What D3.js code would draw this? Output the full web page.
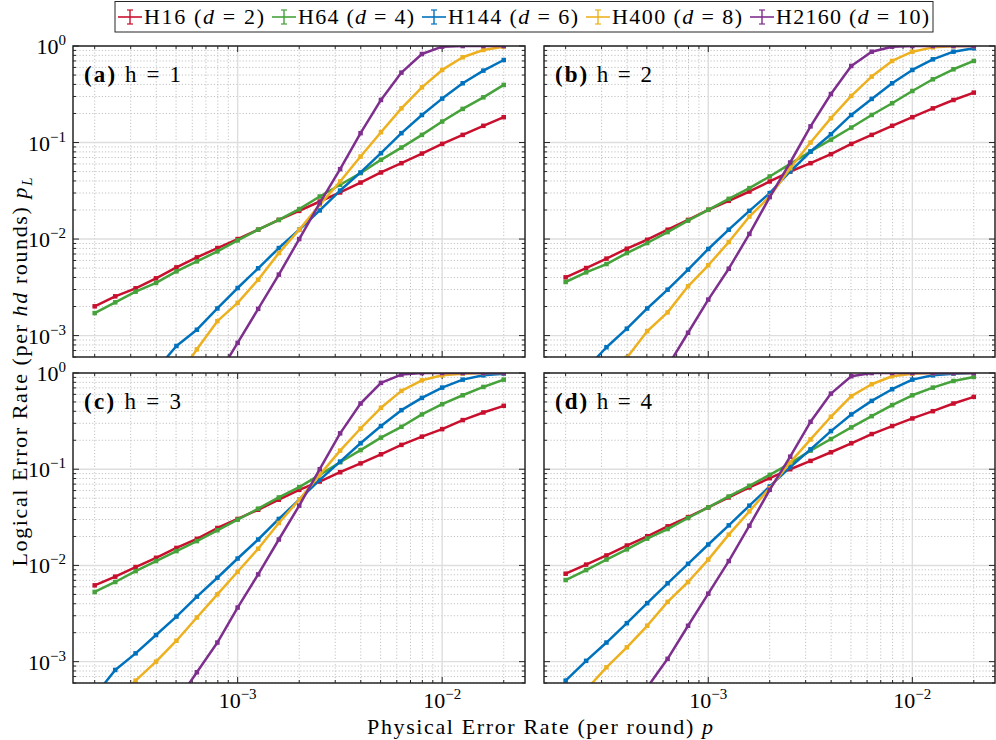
<!DOCTYPE html>
<html>
<head>
<meta charset="utf-8">
<script src="https://cdn.jsdelivr.net/npm/d3@7"></script>
<style>
   body { margin: 0; background: #fff; }
   text { font-family: "Liberation Serif", "Times New Roman", serif; fill: #000; }
</style>
</head>
<body>
<svg id="chart" width="996" height="740"></svg>
<script>
'use strict';

// physical error rate per round (x values, shared by every panel)
const physRate = [2.00e-4, 2.52e-4, 3.17e-4, 3.99e-4, 5.02e-4, 6.32e-4, 7.96e-4, 1.00e-3, 1.26e-3, 1.59e-3,
   2.00e-3, 2.52e-3, 3.17e-3, 3.99e-3, 5.02e-3, 6.32e-3, 7.96e-3, 1.00e-2, 1.26e-2, 1.59e-2, 2.00e-2];

// (a) h = 1
const h1_H16 = [2.01e-3, 2.55e-3, 3.09e-3, 3.92e-3, 5.09e-3, 6.46e-3, 8.07e-3, 1.00e-2, 1.25e-2, 1.58e-2, 1.96e-2, 2.45e-2, 3.04e-2, 3.85e-2, 4.90e-2, 6.11e-2, 7.69e-2, 9.68e-2, 0.120, 0.149, 0.183];
const h1_H64 = [1.71e-3, 2.21e-3, 2.85e-3, 3.51e-3, 4.63e-3, 5.87e-3, 7.45e-3, 9.68e-3, 1.25e-2, 1.58e-2, 2.04e-2, 2.76e-2, 3.65e-2, 4.82e-2, 6.62e-2, 8.87e-2, 0.120, 0.165, 0.223, 0.294, 0.395];
const h1_H144 = [null, null, null, 4.4e-4, 7.8e-4, 1.15e-3, 1.91e-3, 3.11e-3, 4.98e-3, 8.07e-3, 1.25e-2, 1.98e-2, 3.18e-2, 4.90e-2, 7.76e-2, 0.125, 0.193, 0.285, 0.411, 0.556, 0.716];
const h1_H400 = [null, null, null, null, 3.55e-4, 7.2e-4, 1.41e-3, 2.18e-3, 3.79e-3, 7.16e-3, 1.25e-2, 2.26e-2, 3.95e-2, 7.16e-2, 0.128, 0.226, 0.373, 0.565, 0.764, 0.910, 0.984];
const h1_H2160 = [null, null, null, null, null, null, 3.8e-4, 8.4e-4, 1.89e-3, 4.28e-3, 1.00e-2, 2.36e-2, 5.30e-2, 0.125, 0.276, 0.530, 0.826, 0.984, 0.999, 1.0, 1.0];

// (b) h = 2
const h2_H16 = [4.01e-3, 5.01e-3, 6.27e-3, 7.94e-3, 9.84e-3, 1.25e-2, 1.58e-2, 2.01e-2, 2.49e-2, 3.11e-2, 3.95e-2, 5.01e-2, 6.11e-2, 7.57e-2, 9.68e-2, 0.120, 0.149, 0.183, 0.226, 0.276, 0.329];
const h2_H64 = [3.59e-3, 4.52e-3, 5.51e-3, 7.16e-3, 9.10e-3, 1.18e-2, 1.55e-2, 2.01e-2, 2.61e-2, 3.37e-2, 4.45e-2, 6.01e-2, 8.07e-2, 0.107, 0.143, 0.193, 0.255, 0.342, 0.452, 0.574, 0.700];
const h2_H144 = [null, 4.5e-4, 7.57e-4, 1.18e-3, 1.91e-3, 2.99e-3, 4.82e-3, 7.89e-3, 1.25e-2, 1.96e-2, 2.99e-2, 5.01e-2, 8.07e-2, 0.122, 0.193, 0.283, 0.411, 0.565, 0.728, 0.873, 0.946];
const h2_H400 = [null, null, null, 5.9e-4, 1.11e-3, 1.74e-3, 3.24e-3, 5.35e-3, 9.31e-3, 1.71e-2, 2.76e-2, 5.42e-2, 0.100, 0.179, 0.304, 0.482, 0.700, 0.873, 0.968, 0.995, 0.999];
const h2_H2160 = [null, null, null, null, null, 4.8e-4, 1.07e-3, 2.36e-3, 4.93e-3, 1.13e-2, 2.72e-2, 6.21e-2, 0.147, 0.318, 0.621, 0.873, 0.984, 0.999, 1.0, 1.0, 1.0];

// (c) h = 3
const h3_H16 = [6.21e-3, 7.64e-3, 9.62e-3, 1.20e-2, 1.52e-2, 1.89e-2, 2.45e-2, 3.04e-2, 3.79e-2, 4.82e-2, 6.11e-2, 7.45e-2, 9.31e-2, 0.115, 0.143, 0.179, 0.218, 0.261, 0.324, 0.389, 0.456];
const h3_H64 = [5.30e-3, 6.73e-3, 8.73e-3, 1.11e-2, 1.41e-2, 1.79e-2, 2.32e-2, 2.99e-2, 3.89e-2, 5.09e-2, 6.52e-2, 8.73e-2, 0.118, 0.158, 0.213, 0.276, 0.371, 0.474, 0.587, 0.716, 0.853];
const h3_H144 = [4.4e-4, 8.2e-4, 1.22e-3, 1.89e-3, 2.94e-3, 4.74e-3, 7.45e-3, 1.18e-2, 1.86e-2, 3.04e-2, 4.82e-2, 7.76e-2, 0.120, 0.186, 0.281, 0.411, 0.551, 0.705, 0.853, 0.946, 0.984];
const h3_H400 = [null, 4.1e-4, 6.35e-4, 1.00e-3, 1.65e-3, 2.88e-3, 5.01e-3, 8.59e-3, 1.49e-2, 2.76e-2, 4.82e-2, 8.73e-2, 0.156, 0.265, 0.435, 0.652, 0.839, 0.946, 0.984, 0.998, 0.999];
const h3_H2160 = [null, null, null, null, 3.8e-4, 7.76e-4, 1.58e-3, 3.65e-3, 8.07e-3, 1.86e-2, 4.18e-2, 0.100, 0.236, 0.482, 0.789, 0.962, 0.998, 1.0, 1.0, 1.0, 1.0];

// (d) h = 4
const h4_H16 = [8.20e-3, 1.02e-2, 1.27e-2, 1.61e-2, 2.01e-2, 2.55e-2, 3.18e-2, 4.01e-2, 5.09e-2, 6.46e-2, 8.07e-2, 0.100, 0.122, 0.150, 0.186, 0.232, 0.281, 0.337, 0.401, 0.482, 0.565];
const h4_H64 = [7.05e-3, 8.95e-3, 1.15e-2, 1.47e-2, 1.90e-2, 2.39e-2, 3.11e-2, 4.01e-2, 5.21e-2, 6.73e-2, 8.73e-2, 0.115, 0.156, 0.206, 0.272, 0.356, 0.463, 0.587, 0.705, 0.826, 0.910];
const h4_H144 = [6.35e-4, 1.02e-3, 1.58e-3, 2.51e-3, 4.05e-3, 6.52e-3, 1.04e-2, 1.65e-2, 2.61e-2, 4.18e-2, 6.62e-2, 0.105, 0.161, 0.249, 0.371, 0.513, 0.678, 0.853, 0.946, 0.984, 0.998];
const h4_H400 = [null, 5.1e-4, 8.73e-4, 1.41e-3, 2.36e-3, 4.18e-3, 6.73e-3, 1.15e-2, 2.09e-2, 3.65e-2, 6.35e-2, 0.118, 0.204, 0.351, 0.574, 0.764, 0.925, 0.984, 0.998, 0.999, 1.0];
const h4_H2160 = [null, null, null, null, 5.4e-4, 1.07e-3, 2.36e-3, 5.09e-3, 1.11e-2, 2.59e-2, 6.11e-2, 0.135, 0.311, 0.611, 0.925, 0.998, 1.0, 1.0, 1.0, 1.0, 1.0];

const codeNames = ["H16", "H64", "H144", "H400", "H2160"];
const codeDist = [2, 4, 6, 8, 10];
const codeColors = ["#c8102e", "#46a23a", "#0072bd", "#edb120", "#7e2f8e"];
const panelTags = ["(a)", "(b)", "(c)", "(d)"];
const panelH = [1, 2, 3, 4];
const xTickPowers = [-3, -2];
const yTickPowers = [0, -1, -2, -3];

const panelSeries = [
   [h1_H16, h1_H64, h1_H144, h1_H400, h1_H2160],
   [h2_H16, h2_H64, h2_H144, h2_H400, h2_H2160],
   [h3_H16, h3_H64, h3_H144, h3_H400, h3_H2160],
   [h4_H16, h4_H64, h4_H144, h4_H400, h4_H2160]
];

const svg = d3.select("#chart");
const cols = [[73, 525], [544, 995]];
const rows = [[46, 357], [373, 683]];
const frameColor = "#262626";

function powLabel(sel, e) {
   sel.append("tspan").text("10");
   sel.append("tspan")
      .attr("dy", -9)
      .attr("font-size", 15)
      .text(e < 0 ? "\u2212" + (-e) : String(e));
}

const isMajor = v => Math.abs(Math.log10(v) - Math.round(Math.log10(v))) < 1e-6;

panelSeries.forEach((series, i) => {
   const col = i % 2, row = Math.floor(i / 2);
   const [x0, x1] = cols[col];
   const [y0, y1] = rows[row];

   const x = d3.scaleLog().domain([10 ** -3.805, 10 ** -1.595]).range([x0, x1]);
   const y = d3.scaleLog().domain([6e-4, 1]).range([y1, y0]);
   const xt = x.ticks(), yt = y.ticks();

   const g = svg.append("g").attr("class", "panel");

   g.append("clipPath")
      .attr("id", "clip" + i)
      .append("rect")
      .attr("x", x0).attr("y", y0)
      .attr("width", x1 - x0).attr("height", y1 - y0);

   // minor grid
   g.selectAll(".xminor")
      .data(xt.filter(v => !isMajor(v)))
      .enter().append("line")
      .attr("x1", d => x(d)).attr("x2", d => x(d))
      .attr("y1", y0).attr("y2", y1)
      .style("stroke", "#c2c2c2").style("stroke-dasharray", "1.2,2").style("stroke-width", 1);
   g.selectAll(".yminor")
      .data(yt.filter(v => !isMajor(v)))
      .enter().append("line")
      .attr("y1", d => y(d)).attr("y2", d => y(d))
      .attr("x1", x0).attr("x2", x1)
      .style("stroke", "#c2c2c2").style("stroke-dasharray", "1.2,2").style("stroke-width", 1);

   // major grid
   g.selectAll(".xmajor")
      .data(xt.filter(isMajor))
      .enter().append("line")
      .attr("x1", d => x(d)).attr("x2", d => x(d))
      .attr("y1", y0).attr("y2", y1)
      .style("stroke", "#dedede").style("stroke-width", 1.4);
   g.selectAll(".ymajor")
      .data(yt.filter(isMajor))
      .enter().append("line")
      .attr("y1", d => y(d)).attr("y2", d => y(d))
      .attr("x1", x0).attr("x2", x1)
      .style("stroke", "#dedede").style("stroke-width", 1.4);

   // ticks on all four sides, pointing inward
   const tickLen = d => isMajor(d) ? 6 : 3;
   xt.forEach(d => {
      g.append("line").attr("x1", x(d)).attr("x2", x(d)).attr("y1", y1).attr("y2", y1 - tickLen(d))
         .style("stroke", frameColor).style("stroke-width", 1);
      g.append("line").attr("x1", x(d)).attr("x2", x(d)).attr("y1", y0).attr("y2", y0 + tickLen(d))
         .style("stroke", frameColor).style("stroke-width", 1);
   });
   yt.forEach(d => {
      g.append("line").attr("y1", y(d)).attr("y2", y(d)).attr("x1", x0).attr("x2", x0 + tickLen(d))
         .style("stroke", frameColor).style("stroke-width", 1);
      g.append("line").attr("y1", y(d)).attr("y2", y(d)).attr("x1", x1).attr("x2", x1 - tickLen(d))
         .style("stroke", frameColor).style("stroke-width", 1);
   });

   // data
   const plot = g.append("g").attr("clip-path", `url(#clip${i})`);
   const line = d3.line()
      .defined(d => d[1] != null)
      .x(d => x(d[0]))
      .y(d => y(d[1]));

   series.forEach((vals, s) => {
      const pts = physRate.map((p, k) => [p, vals[k]]);
      plot.append("path")
         .datum(pts)
         .attr("d", line)
         .style("fill", "none")
         .style("stroke", codeColors[s])
         .style("stroke-width", 2.5)
         .style("stroke-linejoin", "round");
      plot.selectAll(null)
         .data(pts.filter(d => d[1] != null))
         .enter().append("rect")
         .attr("x", d => x(d[0]) - 2.25)
         .attr("y", d => y(d[1]) - 2.25)
         .attr("width", 4.5).attr("height", 4.5)
         .style("fill", codeColors[s]);
   });

   // frame
   g.append("rect")
      .attr("x", x0).attr("y", y0)
      .attr("width", x1 - x0).attr("height", y1 - y0)
      .style("fill", "none").style("stroke", frameColor).style("stroke-width", 1.5);

   // tick labels
   if (col === 0) {
      yTickPowers.forEach(e => {
         g.append("text")
            .attr("x", x0 - 7).attr("y", y(10 ** e) + 8)
            .attr("text-anchor", "end").attr("font-size", 22)
            .call(powLabel, e);
      });
   }
   if (row === 1) {
      xTickPowers.forEach(e => {
         g.append("text")
            .attr("x", x(10 ** e)).attr("y", y1 + 25)
            .attr("text-anchor", "middle").attr("font-size", 22)
            .call(powLabel, e);
      });
   }

   // panel label
   const lab = g.append("text")
      .attr("x", x0 + 11).attr("y", y0 + 36)
      .attr("font-size", 23)
      .attr("textLength", 97);
   lab.append("tspan").attr("font-weight", "bold").text(panelTags[i]);
   lab.append("tspan").text(" h = " + panelH[i]);
});

// axis titles
const xTitle = svg.append("text")
   .attr("x", 540).attr("y", 734)
   .attr("text-anchor", "middle").attr("font-size", 22)
   .attr("textLength", 346);
xTitle.append("tspan").text("Physical Error Rate (per round) ");
xTitle.append("tspan").style("font-style", "italic").text("p");

const yTitle = svg.append("text")
   .attr("transform", "translate(27,372) rotate(-90)")
   .attr("text-anchor", "middle").attr("font-size", 22)
   .attr("textLength", 389);
yTitle.append("tspan").text("Logical Error Rate (per ");
yTitle.append("tspan").style("font-style", "italic").text("hd");
yTitle.append("tspan").text(" rounds) ");
yTitle.append("tspan").style("font-style", "italic").text("p");
yTitle.append("tspan").style("font-style", "italic").attr("font-size", 15).attr("dy", 5).text("L");

// legend
const legend = svg.append("g");
const legendTextWidths = [120, 116, 130, 130, 153];
let lx = 0;
codeNames.forEach((name, s) => {
   const it = legend.append("g").attr("transform", `translate(${lx},0)`);
   it.append("line").attr("x1", 0).attr("x2", 24).attr("y1", 17).attr("y2", 17)
      .style("stroke", codeColors[s]).style("stroke-width", 1.6);
   it.append("line").attr("x1", 12).attr("x2", 12).attr("y1", 10).attr("y2", 24)
      .style("stroke", codeColors[s]).style("stroke-width", 1.4);
   it.append("line").attr("x1", 9).attr("x2", 15).attr("y1", 10).attr("y2", 10)
      .style("stroke", codeColors[s]).style("stroke-width", 1.2);
   it.append("line").attr("x1", 9).attr("x2", 15).attr("y1", 24).attr("y2", 24)
      .style("stroke", codeColors[s]).style("stroke-width", 1.2);
   const t = it.append("text")
      .attr("x", 26).attr("y", 24)
      .attr("font-size", 22)
      .attr("textLength", legendTextWidths[s]);
   t.append("tspan").text(name + " (");
   t.append("tspan").style("font-style", "italic").text("d");
   t.append("tspan").text(" = " + codeDist[s] + ")");
   lx += 26 + legendTextWidths[s] + 8;
});
const legendW = lx - 8 + 7;
const legendX = 524 - legendW / 2;
legend.attr("transform", `translate(${legendX + 3},0)`);
legend.insert("rect", ":first-child")
   .attr("x", -3).attr("y", 1.5)
   .attr("width", legendW).attr("height", 30.5)
   .style("fill", "#fff").style("stroke", frameColor).style("stroke-width", 1);
</script>
</body>
</html>
